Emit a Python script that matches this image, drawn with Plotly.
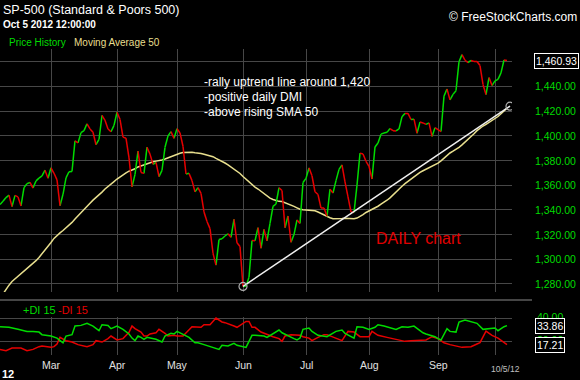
import pandas as pd
import plotly.graph_objects as go

# ---------------- data ----------------
# closes before the visible window (Nov 23 2011 - Feb 3 2012), only used for the 50-day average warm-up
closes_prior = [1161.79, 1158.67, 1192.55, 1195.19, 1246.96,
                1244.58, 1244.28, 1257.08, 1258.47, 1261.01, 1234.35, 1255.19, 1236.47, 1225.73, 1211.82,
                1215.75, 1219.66, 1205.35, 1241.30, 1243.72, 1254.00, 1265.33, 1265.43, 1249.64, 1263.02, 1257.60,
                1277.06, 1277.30, 1281.06, 1277.81, 1280.70, 1292.08, 1292.48, 1295.50, 1289.09, 1293.67,
                1308.04, 1314.50, 1315.38, 1316.00, 1314.65, 1326.06, 1318.43, 1316.33, 1313.01, 1312.41,
                1324.09, 1325.54, 1344.90]

closes_feb = [1344.33, 1347.05, 1349.96, 1351.95, 1342.64, 1351.77, 1350.50, 1343.23, 1358.04, 1361.23,
              1362.21, 1357.66, 1363.46, 1365.74, 1367.59, 1372.18, 1365.68]
closes_mar = [1374.09, 1369.63, 1364.33, 1343.36, 1352.63, 1365.91, 1370.87, 1371.09, 1395.95, 1394.28, 1402.60,
              1404.17, 1409.75, 1405.52, 1402.89, 1392.78, 1397.11, 1416.51, 1412.52, 1405.54, 1403.28, 1408.47]
closes_apr = [1419.04, 1413.38, 1398.96, 1398.08, 1382.20, 1358.59, 1368.71, 1387.57, 1370.26, 1369.57,
              1390.78, 1385.14, 1376.92, 1378.53, 1366.94, 1371.97, 1390.69, 1399.98, 1403.36, 1397.91]
closes_may = [1405.82, 1402.31, 1391.57, 1369.10, 1369.58, 1363.72, 1354.58, 1357.99, 1353.39, 1338.35, 1330.66,
              1324.80, 1304.86, 1295.22, 1315.99, 1316.63, 1318.86, 1320.68, 1317.82, 1332.42, 1313.32, 1310.33]
closes_jun = [1278.04, 1278.18, 1285.50, 1315.13, 1314.99, 1325.66, 1308.93, 1324.18, 1314.88, 1329.10, 1342.84,
              1344.78, 1357.98, 1355.69, 1325.51, 1335.02, 1313.72, 1319.99, 1331.85, 1329.04, 1362.16]
closes_jul = [1365.51, 1374.02, 1367.58, 1354.68, 1352.46, 1341.47, 1341.45, 1334.76, 1356.78, 1353.64, 1363.67,
              1372.78, 1376.51, 1362.66, 1350.52, 1338.31, 1337.89, 1360.02, 1385.97, 1385.30, 1379.32]
closes_aug = [1375.32, 1365.00, 1390.99, 1394.23, 1401.35, 1402.22, 1402.80, 1405.87, 1404.11, 1403.93, 1405.53,
              1415.51, 1418.16, 1418.13, 1413.17, 1413.49, 1402.08, 1411.13, 1410.44, 1409.30, 1410.49, 1399.48,
              1406.58]
closes_sep = [1404.94, 1403.44, 1432.12, 1437.92, 1429.08, 1433.56, 1436.56, 1459.99, 1465.77, 1461.19, 1459.32,
              1461.05, 1460.26, 1460.15, 1456.89, 1441.59, 1433.32, 1447.15, 1440.67]
closes_oct = [1444.49, 1445.75, 1450.99, 1461.40, 1460.93]

closes = (closes_feb + closes_mar + closes_apr + closes_may + closes_jun + closes_jul + closes_aug
          + closes_sep + closes_oct)

market_holidays = ["2012-02-20", "2012-04-06", "2012-05-28", "2012-07-04", "2012-09-03"]
sessions = [d for d in pd.bdate_range("2012-02-06", "2012-10-08")
            if d.strftime("%Y-%m-%d") not in market_holidays]  # last one = next session after Oct 5

month_labels = ["Mar", "Apr", "May", "Jun", "Jul", "Aug", "Sep"]
price_ticks = [1280, 1300, 1320, 1340, 1360, 1380, 1400, 1420, 1440, 1460]
di_ticks = [20, 40]

# DMI(15) (trading-day number, value)
plus_di_day = [0, 3, 6, 9, 11, 13, 14, 17, 19, 21, 22, 24, 25, 27, 29, 31, 33, 34, 36, 37, 39, 41, 43, 44, 45, 46,
               47, 48, 49, 52, 54, 55, 57, 58, 59, 61, 63, 65, 66, 68, 70, 73, 74, 76, 78, 79, 82, 83, 84, 85, 88,
               89, 91, 93, 94, 96, 98, 99, 100, 101, 103, 104, 106, 109, 110, 112, 114, 115, 118, 119, 121, 123,
               125, 126, 128, 130, 132, 134, 136, 138, 140, 141, 142, 145, 146, 147, 149, 150, 152, 153, 155, 157,
               159, 161, 163, 165, 166, 168, 169]
plus_di_val = [32.9, 32.4, 30.6, 28.8, 28.8, 28.2, 25.9, 24.7, 22.9, 18.8, 24.7, 25.9, 33.5, 34.1, 35.9, 33.5,
               29.4, 34.7, 34.1, 31.2, 33.5, 30.6, 26.5, 22.9, 20.6, 24.7, 23.5, 21.8, 23.5, 21.8, 19.4, 24.7,
               27.1, 26.5, 28.8, 26.5, 23.5, 18.8, 18.8, 17.1, 15.3, 12.9, 16.5, 15.9, 18.2, 16.5, 14.7, 19.4,
               25.3, 25.3, 24.7, 23.5, 26.5, 30.0, 27.6, 24.7, 22.4, 21.2, 22.9, 30.6, 31.8, 28.8, 25.3, 24.1,
               25.9, 28.8, 30.0, 27.1, 22.9, 32.9, 32.4, 30.6, 32.4, 34.7, 33.5, 31.8, 30.6, 32.9, 32.4, 33.5,
               29.4, 27.6, 26.5, 24.1, 22.4, 21.2, 31.2, 28.8, 28.2, 37.1, 38.8, 37.1, 35.9, 30.6, 31.2, 31.8,
               29.4, 32.9, 33.86]
minus_di_day = [0, 2, 4, 7, 9, 11, 13, 14, 17, 18, 19, 20, 22, 24, 26, 29, 31, 32, 34, 36, 37, 39, 41, 43, 44, 45,
                47, 48, 49, 50, 52, 53, 55, 56, 58, 59, 61, 63, 64, 67, 68, 70, 72, 74, 75, 78, 79, 82, 83, 84,
                85, 87, 89, 91, 93, 94, 95, 97, 100, 101, 103, 104, 106, 108, 109, 111, 114, 116, 118, 120, 123,
                124, 126, 129, 130, 132, 135, 137, 139, 142, 144, 146, 148, 150, 154, 157, 159, 160, 162, 164,
                166, 167, 169]
minus_di_val = [12.9, 11.8, 14.1, 14.1, 11.8, 12.9, 15.3, 15.9, 14.7, 15.3, 17.7, 23.5, 20.6, 19.4, 17.1, 15.3,
                17.1, 20.6, 19.4, 22.4, 24.7, 21.2, 22.4, 28.0, 33.5, 31.2, 28.2, 24.7, 24.7, 26.5, 27.6, 30.6,
                27.1, 24.7, 25.3, 24.7, 24.7, 30.6, 32.9, 32.4, 34.7, 34.7, 40.6, 37.1, 36.5, 33.5, 32.4, 37.6,
                37.6, 32.4, 32.4, 28.2, 25.9, 24.1, 22.4, 20.0, 24.7, 25.9, 25.3, 24.1, 22.9, 20.6, 23.5, 25.9,
                25.9, 23.5, 20.6, 28.8, 28.2, 24.1, 24.1, 28.8, 25.3, 23.5, 22.9, 21.2, 20.0, 20.6, 20.6, 21.2,
                24.1, 22.4, 18.8, 17.1, 14.7, 15.3, 17.7, 18.8, 29.0, 25.3, 22.9, 21.2, 17.21]

trend_dates = ["2012-06-01", "2012-10-08"]
trend_values = [1278.04, 1424.0]

# ---------------- derived ----------------
assert len(sessions) == len(closes) + 1
assert len(plus_di_day) == len(plus_di_val) and len(minus_di_day) == len(minus_di_val)
n = len(closes)
day_str = [d.strftime("%Y-%m-%d") for d in sessions]
idx = list(range(len(sessions)))
ma50 = pd.Series(closes_prior + closes).rolling(50).mean().iloc[len(closes_prior):].tolist()

month_first = []
for i, d in enumerate(sessions):
    if i == 0:
        continue
    if d.month != sessions[i - 1].month:
        month_first.append(i)

GREEN = "#00dc00"
RED = "#e60000"
MA_COL = "#e8df8e"
GRID = "#474747"
FONT = "Liberation Sans, Arial, sans-serif"

up_x, up_y, dn_x, dn_y = [], [], [], []
for i in range(n - 1):
    if closes[i + 1] >= closes[i]:
        up_x += [idx[i], idx[i + 1], None]
        up_y += [closes[i], closes[i + 1], None]
    else:
        dn_x += [idx[i], idx[i + 1], None]
        dn_y += [closes[i], closes[i + 1], None]

fig = go.Figure()
fig.add_trace(go.Scatter(x=idx[:n], y=ma50, mode="lines", line=dict(color=MA_COL, width=1.5),
                         xaxis="x", yaxis="y", hoverinfo="skip"))
fig.add_trace(go.Scatter(x=up_x, y=up_y, mode="lines", line=dict(color=GREEN, width=1.5),
                         xaxis="x", yaxis="y", connectgaps=False, hoverinfo="skip"))
fig.add_trace(go.Scatter(x=dn_x, y=dn_y, mode="lines", line=dict(color=RED, width=1.5),
                         xaxis="x", yaxis="y", connectgaps=False, hoverinfo="skip"))
fig.add_trace(go.Scatter(x=[day_str.index(d) for d in trend_dates], y=trend_values, mode="lines+markers",
                         line=dict(color="#f0f0f0", width=1.5),
                         marker=dict(symbol="circle-open", size=8, color="#b0b0b0", line=dict(width=1.2)),
                         xaxis="x", yaxis="y", hoverinfo="skip"))
fig.add_trace(go.Scatter(x=minus_di_day, y=minus_di_val, mode="lines", line=dict(color=RED, width=1.5),
                         xaxis="x2", yaxis="y2", hoverinfo="skip"))
fig.add_trace(go.Scatter(x=plus_di_day, y=plus_di_val, mode="lines", line=dict(color=GREEN, width=1.5),
                         xaxis="x2", yaxis="y2", hoverinfo="skip"))

W, H = 580, 380
def px(x):
    return x / W
def py(y):
    return 1 - y / H

xr = [0, 512 / 3]
xdom = [0, px(512)]
axis_common = dict(showline=False, zeroline=False, ticks="", showticklabels=False,
                   gridcolor=GRID, gridwidth=1, fixedrange=True)

fig.update_layout(
    width=W, height=H, margin=dict(l=0, r=0, t=0, b=0),
    paper_bgcolor="black", plot_bgcolor="black", showlegend=False,
    font=dict(family=FONT, color="white"),
    xaxis=dict(domain=xdom, range=xr, anchor="y", tickmode="array", tickvals=month_first, **axis_common),
    yaxis=dict(domain=[py(292), py(49)], range=[1273.5, 1470.3], anchor="x", tickmode="array",
               tickvals=price_ticks, **axis_common),
    xaxis2=dict(domain=xdom, range=xr, anchor="y2", tickmode="array", tickvals=month_first, **axis_common),
    yaxis2=dict(domain=[py(355), py(317)], range=[7.96, 41.5], anchor="x2", tickmode="array",
                tickvals=di_ticks, **axis_common),
)

fig.add_shape(type="line", xref="paper", yref="paper", x0=0, x1=px(532), y0=py(300), y1=py(300),
              line=dict(color="#8a8a8a", width=1.2))

ann = []
def txt(text, x, y, size, color="white", xanchor="left", bold=False, xref="paper", yref="paper", **kw):
    d = dict(text=("<b>%s</b>" % text) if bold else text, x=x, y=y, xref=xref, yref=yref,
             xanchor=xanchor, yanchor="middle", showarrow=False,
             font=dict(family=FONT, size=size, color=color))
    d.update(kw)
    ann.append(d)

txt("SP-500 (Standard &amp; Poors 500)", px(1), py(9.5), 12.5)
txt("Oct 5 2012 12:00:00", px(1), py(25), 10, bold=True)
txt("Price History", px(7), py(42), 10, color=GREEN)
txt("Moving Average 50", px(72), py(42), 10, color=MA_COL)
txt("\u00a9 FreeStockCharts.com", px(579), py(17), 12, xanchor="right")

notes = ["-rally uptrend line around 1,420", "-positive daily DMI", "-above rising SMA 50"]
for k, line in enumerate(notes):
    txt(line, px(202), py(81.7 + 15.3 * k), 12)
txt("DAILY chart", px(374), py(239), 16, color="#e00000")

txt("+DI 15", px(21), py(310), 11, color=GREEN)
txt("-DI 15", px(56), py(310), 11, color=RED)

for v in price_ticks[:-1]:
    txt(f"{v:,.2f}", px(555), v, 10.5, color=GREEN, xanchor="center", yref="y")
txt(f"{closes[-1]:,.2f}", px(556.5), closes[-1], 10.5, xanchor="center", yref="y",
    bgcolor="black", bordercolor="white", borderwidth=1, borderpad=1)

# partially hidden lower-panel scale labels, just peeking out from behind the value boxes
txt(f"{di_ticks[1]:.2f}", px(550), di_ticks[1] + 1.2, 10.5, color=GREEN, xanchor="center", yref="y2")
txt(f"{di_ticks[0]:.2f}", px(550), di_ticks[0] + 1.2, 10.5, color=GREEN, xanchor="center", yref="y2")
txt(f"{plus_di_val[-1]:.2f}", px(550), plus_di_val[-1], 10.5, xanchor="center", yref="y2",
    bgcolor="black", bordercolor="white", borderwidth=1, borderpad=1)
txt(f"{minus_di_val[-1]:.2f}", px(550), minus_di_val[-1], 10.5, xanchor="center", yref="y2",
    bgcolor="black", bordercolor="white", borderwidth=1, borderpad=1)

for lab, i in zip(month_labels, month_first):
    txt(lab, i, py(365), 10.5, color="#e0e0e0", xanchor="center", xref="x2")
txt(sessions[n - 1].strftime("%-m/%-d/%y"), px(505), py(369), 8.5, color="#c0c0c0", xanchor="center")
txt(sessions[0].strftime("%y"), px(0), py(374), 11, bold=True)

fig.update_layout(annotations=ann)
fig.write_html("out.html", config={"displayModeBar": False, "staticPlot": True},
               post_script="document.body.style.margin='0';document.body.style.overflow='hidden';")
